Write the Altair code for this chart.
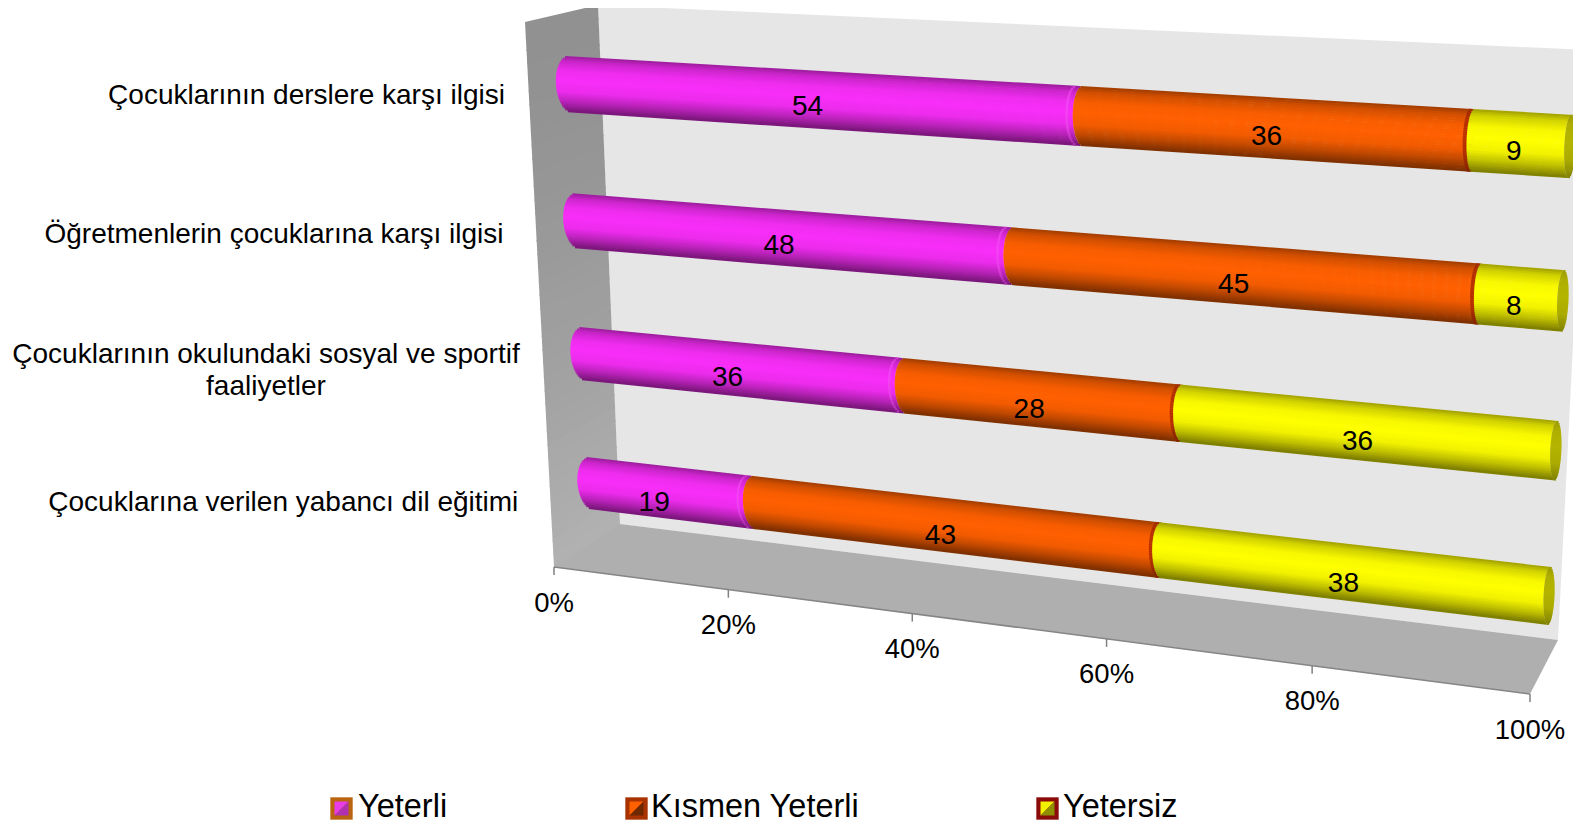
import altair as alt
import numpy as np
import pandas as pd

# ---- data -------------------------------------------------------------
SERIES = ["Yeterli", "Kısmen Yeterli", "Yetersiz"]
YETERLI = [54, 48, 36, 19]
KISMEN = [36, 45, 28, 43]
YETERSIZ = [9, 8, 36, 38]
TICKS = [0, 20, 40, 60, 80, 100]
CATEGORY_LINES = [
    ["Çocuklarının derslere karşı ilgisi"],
    ["Öğretmenlerin çocuklarına karşı ilgisi"],
    ["Çocuklarının okulundaki sosyal ve sportif", "faaliyetler"],
    ["Çocuklarına verilen yabancı dil eğitimi"],
]

# ---- style ------------------------------------------------------------
FONT = "Liberation Sans"
BASE = ["#F82EF8", "#FF6000", "#FFFF00"]
RIM = ["#F444F4", "#B83000", "#B4B400"]
W, H = 1565, 816
OFF = 8
N = 30
HALF = 0.2  # half bar thickness, in category steps
END_NUDGE = [0.0, 0.5, 0.0]  # the second cap sits a little past its share


def rgb(h):
    return np.array([int(h[i:i + 2], 16) for i in (1, 3, 5)], float)


def hexc(a):
    a = np.clip(a, 0, 255).round().astype(int)
    return "#%02x%02x%02x" % tuple(a)


def shade(color, s):
    f = np.interp(s, [-1, -0.8, -0.45, -0.1, 0.3, 0.65, 1], [0.62, 0.82, 0.97, 1, 0.95, 0.75, 0.48])
    return hexc(rgb(color) * f)


# ---- perspective calibration -------------------------------------------
def homography(src, dst):
    A, b = [], []
    for (u, v), (x, y) in zip(src, dst):
        A.append([u, v, 1, 0, 0, 0, -u * x, -v * x]); b.append(x)
        A.append([0, 0, 0, u, v, 1, -u * y, -v * y]); b.append(y)
    return np.append(np.linalg.solve(np.array(A, float), np.array(b, float)), 1).reshape(3, 3)


BAR_H = homography(
    [(0, 0), (0, 3), (100, 0), (100, 3)],
    [(570, 84.5), (591, 483.5), (1570, 146.5), (1549, 596)],
)


def bar_pt(v, c):
    p = BAR_H @ np.array([v, c, 1.0])
    return p[0] / p[2], p[1] / p[2]


def cap(v):
    return 1.6 - 0.011 * v


FLOOR_L, FLOOR_R = (554, 567), (1530, 694)


def edge_pt(v):
    t = v / (1 - 0.0013 * v) * 0.87 / 100
    return (FLOOR_L[0] + t * (FLOOR_R[0] - FLOOR_L[0]), FLOOR_L[1] + t * (FLOOR_R[1] - FLOOR_L[1]))


# ---- walls --------------------------------------------------------------
BOX = dict(ltf=(525, 22), ltb=(598, 5), lbb=(620, 524), lbf=FLOOR_L,
           rtb=(1588, 50), rbb=(1558, 640), rbf=FLOOR_R)
polys = []
pid_next = [0]


def add_poly(pts, color):
    pid = pid_next[0]
    pid_next[0] += 1
    for i, (x, y) in enumerate(pts + pts[:1]):
        polys.append(dict(pid=pid, ord=i, x=x, y=y, color=color))


def lerp(a, b, t):
    return (a[0] + (b[0] - a[0]) * t, a[1] + (b[1] - a[1]) * t)


add_poly([BOX["ltb"], BOX["rtb"], BOX["rbb"], BOX["lbb"]], "#E6E6E6")
BANDS = 40
for i in range(BANDS):
    t0, t1 = i / BANDS, (i + 1) / BANDS
    col = hexc(rgb("#919191") + (rgb("#B2B2B2") - rgb("#919191")) * (t0 ** 1.5))
    add_poly([lerp(BOX["ltf"], BOX["lbf"], t0), lerp(BOX["ltb"], BOX["lbb"], t0),
              lerp(BOX["ltb"], BOX["lbb"], t1 + 0.003), lerp(BOX["ltf"], BOX["lbf"], t1 + 0.003)], col)
add_poly([BOX["lbf"], BOX["lbb"], BOX["rbb"], BOX["rbf"]], "#AFAFAF")
poly_df = pd.DataFrame(polys)

# ---- cylinders ----------------------------------------------------------
rules = []


def add_rule(x0, y0, x1, y1, color, w=2.7):
    rules.append(dict(x=x0, y=y0, x2=x1, y2=y1, color=color, w=w))


labels = []
rows = list(zip(YETERLI, KISMEN, YETERSIZ))
for c, row in enumerate(rows):
    total = sum(row)
    share_start = 0.0
    start = 0.0
    for k, val in enumerate(row):
        share_end = share_start + val * 100 / total
        end = share_end + END_NUDGE[k]
        for j in range(N):
            s = -1 + (2 * j + 1) / N
            q = np.sqrt(max(0, 1 - s * s))
            cy = c + s * HALF
            a = bar_pt(start - cap(start) * q, cy)
            b = bar_pt(end - cap(end) * q, cy)
            add_rule(a[0], a[1], b[0], b[1], shade(BASE[k], s))
            if k == 2:
                e0 = bar_pt(end - cap(end) * q, cy)
                e1 = bar_pt(end + cap(end) * q, cy)
                add_rule(e0[0], e0[1], e1[0], e1[1], shade(RIM[k], s * 0.7))
            elif k == 1:
                e0 = bar_pt(end - cap(end) * q - 0.35, cy)
                e1 = bar_pt(end, cy)
                add_rule(e0[0], e0[1], e1[0], e1[1], shade(RIM[k], s * 0.7))
            else:
                e0 = bar_pt(end - cap(end) * q - 0.75, cy)
                e1 = bar_pt(end - cap(end) * q - 0.5, cy)
                add_rule(e0[0], e0[1], e1[0], e1[1], shade(RIM[k], s * 0.7))
        centre = (share_start + share_end) / 2
        mid = bar_pt(centre, c)
        dx = np.interp(centre, [9.5, 18, 24, 40, 50, 70, 100], [-12, -8, -4, -4, -4, 2, 1])
        dy = np.interp(centre, [10, 30, 60], [-2.5, -2, 0])
        labels.append(dict(x=mid[0] - 6 + dx, y=mid[1] + 9 + c + dy, text=str(val)))
        share_start = share_end
        start = end
rule_df = pd.DataFrame(rules)

# ---- axis ----------------------------------------------------------------
tick_df = pd.DataFrame([
    dict(x=edge_pt(t)[0], y=edge_pt(t)[1], y2=edge_pt(t)[1] + 8, text=f"{t}%", ly=edge_pt(t)[1] + 36.5)
    for t in TICKS
])
edge_df = pd.DataFrame([dict(x=FLOOR_L[0], y=FLOOR_L[1], x2=FLOOR_R[0], y2=FLOOR_R[1])])

CAT_X = [306.5, 274, 266, 283.3]
CAT_Y = [[96], [235], [355, 387], [503]]
cat_df = pd.DataFrame([
    dict(x=x, y=y, text=t)
    for lines, x, ys in zip(CATEGORY_LINES, CAT_X, CAT_Y)
    for t, y in zip(lines, ys)
])

# ---- legend ---------------------------------------------------------------
SWATCH_X = [341.5, 636.5, 1047.5]
TEXT_X = [358, 651, 1063]
LEG_Y = 808.5
LEG_TEXT_Y = 807
OUTER = ["#B9640F", "#A83200", "#8B0A0A"]
INNER_A = ["#E83CE8", "#FF6000", "#F2F200"]
INNER_B = ["#B030B0", "#6E2800", "#8E8E00"]
leg_df = pd.DataFrame(dict(x=SWATCH_X, y=[LEG_Y] * 3, ty=[LEG_TEXT_Y] * 3, tx=TEXT_X, text=SERIES,
                           outer=OUTER, a=INNER_A, b=INNER_B))

# ---- chart ----------------------------------------------------------------
X = alt.Scale(domain=[OFF, OFF + W], range=[0, W], nice=False)
Y = alt.Scale(domain=[OFF, OFF + H], range=[0, H], nice=False)


def qx(f="x"):
    return alt.X(f, type="quantitative", scale=X, axis=None)


def qy(f="y"):
    return alt.Y(f, type="quantitative", scale=Y, axis=None)


walls = alt.Chart(poly_df).mark_line(filled=True, strokeWidth=0).encode(
    x=qx(), y=qy(), order=alt.Order("ord:Q"), detail="pid:N",
    fill=alt.Fill("color:N", scale=None),
)
edge = alt.Chart(edge_df).mark_rule(color="#858585", strokeWidth=1.5).encode(
    x=qx(), y=qy(), x2="x2:Q", y2="y2:Q")
ticks = alt.Chart(tick_df).mark_rule(color="#808080", strokeWidth=1.5).encode(
    x=qx(), y=qy(), y2="y2:Q")
tick_labels = alt.Chart(tick_df).mark_text(font=FONT, fontSize=27.5, color="black").encode(
    x=qx(), y=qy("ly"), text="text:N")
strips = alt.Chart(rule_df).mark_rule().encode(
    x=qx(), y=qy(), x2="x2:Q", y2="y2:Q",
    color=alt.Color("color:N", scale=None),
    strokeWidth=alt.StrokeWidth("w:Q", scale=None),
)
value_labels = alt.Chart(pd.DataFrame(labels)).mark_text(font=FONT, fontSize=28, color="black").encode(
    x=qx(), y=qy(), text="text:N")
cat_labels = alt.Chart(cat_df).mark_text(font=FONT, fontSize=28, color="black").encode(
    x=qx(), y=qy(), text="text:N")

leg_base = alt.Chart(leg_df)
sw_outer = leg_base.mark_point(shape="square", filled=True, opacity=1, size=500).encode(
    x=qx(), y=qy(), fill=alt.Fill("outer:N", scale=None))
sw_a = leg_base.mark_point(shape="M -1 -1 L 1 -1 L -1 1 Z", filled=True, opacity=1, size=196, strokeWidth=0).encode(
    x=qx(), y=qy(), fill=alt.Fill("a:N", scale=None))
sw_b = leg_base.mark_point(shape="M 1 1 L 1 -1 L -1 1 Z", filled=True, opacity=1, size=196, strokeWidth=0).encode(
    x=qx(), y=qy(), fill=alt.Fill("b:N", scale=None))
leg_text = leg_base.mark_text(font=FONT, fontSize=32.5, color="black", align="left").encode(
    x=qx("tx"), y=qy("ty"), text="text:N")

chart = alt.layer(
    walls, edge, ticks, tick_labels, strips, value_labels, cat_labels,
    sw_outer, sw_a, sw_b, leg_text,
).properties(
    width=W, height=H, padding=0, autosize=alt.AutoSizeParams(type="none"),
    background="white",
).configure_view(stroke=None)

chart.save("out.html", embed_options={"renderer": "svg", "actions": False})
